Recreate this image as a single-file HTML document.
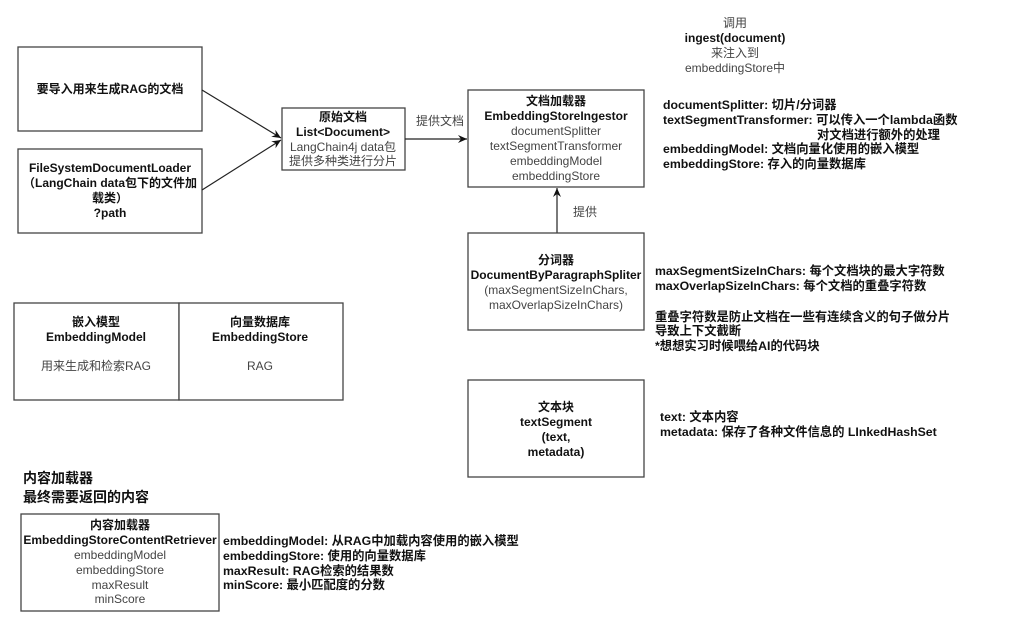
<!DOCTYPE html>
<html><head><meta charset="utf-8"><style>
html,body{margin:0;padding:0;background:#fff;}
svg{display:block;font-family:"Liberation Sans","Noto Sans CJK SC",sans-serif;}
.b{font-weight:bold;fill:#111;}
.g{fill:#444;}
rect{fill:#fff;stroke:#444;stroke-width:1.3;}
line{stroke:#222;stroke-width:1.2;}
</style></head><body>
<svg width="1024" height="623" viewBox="0 0 1024 623">
<defs><marker id="a" markerWidth="10" markerHeight="10" refX="9" refY="5" orient="auto" markerUnits="userSpaceOnUse"><path d="M0,1 L9,5 L0,9 L3,5 Z" fill="#111"/></marker></defs>

<rect x="18" y="47" width="184" height="84"/>
<text x="110" y="93" text-anchor="middle" font-size="12" class="b">要导入用来生成RAG的文档</text>

<rect x="18" y="149" width="184" height="84"/>
<g font-size="12" class="b" text-anchor="middle">
<text x="110" y="172">FileSystemDocumentLoader</text>
<text x="110" y="187">（LangChain data包下的文件加</text>
<text x="110" y="202">载类）</text>
<text x="110" y="217">?path</text>
</g>

<line x1="202" y1="90" x2="281" y2="138" marker-end="url(#a)"/>
<line x1="202" y1="190" x2="281" y2="140" marker-end="url(#a)"/>

<rect x="282" y="108" width="123" height="62"/>
<g font-size="12" text-anchor="middle">
<text x="343" y="121" class="b">原始文档</text>
<text x="343" y="136" class="b">List&lt;Document&gt;</text>
<text x="343" y="151" class="g">LangChain4j data包</text>
<text x="343" y="165" class="g">提供多种类进行分片</text>
</g>
<line x1="405" y1="139" x2="467" y2="139" marker-end="url(#a)"/>
<text x="440" y="125" text-anchor="middle" font-size="12" class="g">提供文档</text>

<g font-size="12" text-anchor="middle">
<text x="735" y="27" class="g">调用</text>
<text x="735" y="42" class="b">ingest(document)</text>
<text x="735" y="57" class="g">来注入到</text>
<text x="735" y="72" class="g">embeddingStore中</text>
</g>

<rect x="468" y="90" width="176" height="97"/>
<g font-size="12" text-anchor="middle">
<text x="556" y="105" class="b">文档加载器</text>
<text x="556" y="120" class="b">EmbeddingStoreIngestor</text>
<text x="556" y="135" class="g">documentSplitter</text>
<text x="556" y="150" class="g">textSegmentTransformer</text>
<text x="556" y="165" class="g">embeddingModel</text>
<text x="556" y="180" class="g">embeddingStore</text>
</g>
<g font-size="12.3" class="b">
<text x="663" y="109">documentSplitter: 切片/分词器</text>
<text x="663" y="124">textSegmentTransformer: 可以传入一个lambda函数</text>
<text x="817" y="139">对文档进行额外的处理</text>
<text x="663" y="153">embeddingModel: 文档向量化使用的嵌入模型</text>
<text x="663" y="168">embeddingStore: 存入的向量数据库</text>
</g>

<line x1="557" y1="233" x2="557" y2="188" marker-end="url(#a)"/>
<text x="585" y="216" text-anchor="middle" font-size="12" class="g">提供</text>

<rect x="468" y="233" width="176" height="97"/>
<g font-size="12" text-anchor="middle">
<text x="556" y="264" class="b">分词器</text>
<text x="556" y="279" class="b">DocumentByParagraphSpliter</text>
<text x="556" y="294" class="g">(maxSegmentSizeInChars,</text>
<text x="556" y="309" class="g">maxOverlapSizeInChars)</text>
</g>
<g font-size="12.3" class="b">
<text x="655" y="275">maxSegmentSizeInChars: 每个文档块的最大字符数</text>
<text x="655" y="290">maxOverlapSizeInChars: 每个文档的重叠字符数</text>
<text x="655" y="321">重叠字符数是防止文档在一些有连续含义的句子做分片</text>
<text x="655" y="335">导致上下文截断</text>
<text x="655" y="350">*想想实习时候喂给AI的代码块</text>
</g>

<rect x="468" y="380" width="176" height="97"/>
<g font-size="12" text-anchor="middle" class="b">
<text x="556" y="411">文本块</text>
<text x="556" y="426">textSegment</text>
<text x="556" y="441">(text,</text>
<text x="556" y="456">metadata)</text>
</g>
<g font-size="12.3" class="b">
<text x="660" y="421">text: 文本内容</text>
<text x="660" y="436">metadata: 保存了各种文件信息的  LInkedHashSet</text>
</g>

<rect x="14" y="303" width="165" height="97"/>
<rect x="179" y="303" width="164" height="97"/>
<g font-size="12" text-anchor="middle">
<text x="96" y="326" class="b">嵌入模型</text>
<text x="96" y="341" class="b">EmbeddingModel</text>
<text x="96" y="370" class="g">用来生成和检索RAG</text>
<text x="260" y="326" class="b">向量数据库</text>
<text x="260" y="341" class="b">EmbeddingStore</text>
<text x="260" y="370" class="g">RAG</text>
</g>

<g font-size="14" class="b">
<text x="23" y="483">内容加载器</text>
<text x="23" y="502">最终需要返回的内容</text>
</g>

<rect x="21" y="514" width="198" height="97"/>
<g font-size="12" text-anchor="middle">
<text x="120" y="529" class="b">内容加载器</text>
<text x="120" y="544" class="b">EmbeddingStoreContentRetriever</text>
<text x="120" y="559" class="g">embeddingModel</text>
<text x="120" y="574" class="g">embeddingStore</text>
<text x="120" y="589" class="g">maxResult</text>
<text x="120" y="603" class="g">minScore</text>
</g>
<g font-size="12.3" class="b">
<text x="223" y="545">embeddingModel: 从RAG中加载内容使用的嵌入模型</text>
<text x="223" y="560">embeddingStore: 使用的向量数据库</text>
<text x="223" y="575">maxResult: RAG检索的结果数</text>
<text x="223" y="589">minScore: 最小匹配度的分数</text>
</g>
</svg>
</body></html>
